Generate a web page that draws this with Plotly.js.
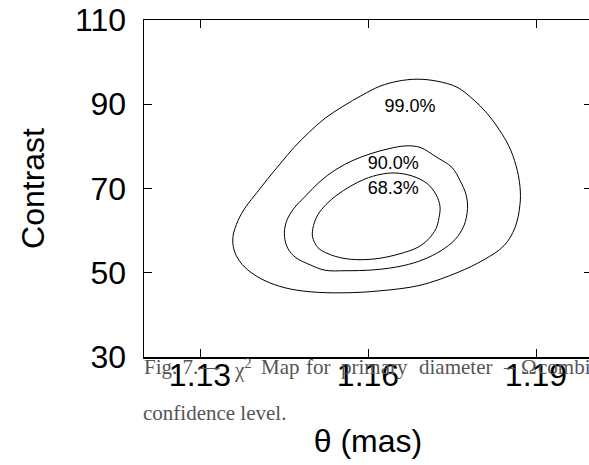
<!DOCTYPE html>
<html>
<head>
<meta charset="utf-8">
<script src="https://cdn.plot.ly/plotly-3.0.1.min.js"></script>
<style>
html,body{margin:0;padding:0;overflow:hidden;background:#fff;}
#chart{width:600px;height:465px;}
</style>
</head>
<body>
<div id="chart"></div>
<script>
// 99.0% confidence contour (theta in mas, contrast)
const c99_x = [1.13821,1.14018,1.14214,1.14429,1.14679,1.14946,1.15232,1.15554,1.15893,1.16214,1.16536,1.16875,1.17232,1.17589,1.17875,1.18125,1.18339,1.18518,1.18643,1.18714,1.18714,1.18625,1.18429,1.18071,1.17589,1.16929,1.16214,1.15589,1.14964,1.14518,1.14161,1.13893,1.13714,1.13607,1.13589,1.13679,1.13821];
const c99_y = [65.71,69.05,72.38,75.83,79.76,83.33,86.67,89.52,92.14,94.29,95.48,95.95,95.48,94.05,91.19,87.86,84.05,80.00,75.48,70.48,66.19,60.71,56.43,53.10,50.00,47.02,45.71,45.24,45.48,46.43,48.10,50.24,52.62,55.48,58.57,62.38,65.71];
// 90.0% confidence contour
const c90_x = [1.16679,1.16929,1.17232,1.17500,1.17643,1.17750,1.17777,1.17714,1.17554,1.17304,1.16982,1.16625,1.16125,1.15589,1.15232,1.14964,1.14714,1.14571,1.14509,1.14536,1.14661,1.14893,1.15143,1.15429,1.15732,1.16036,1.16357,1.16679];
const c90_y = [80.12,79.76,77.38,75.00,71.90,68.57,65.24,61.19,57.86,55.24,53.10,51.67,50.71,50.48,50.60,51.90,53.57,55.71,58.57,61.90,65.00,68.33,71.67,74.52,76.67,78.21,79.40,80.12];
// 68.3% confidence contour
const c68_x = [1.16482,1.16786,1.17054,1.17214,1.17286,1.17268,1.17214,1.17071,1.16875,1.16571,1.16214,1.15857,1.15554,1.15286,1.15107,1.15009,1.15027,1.15107,1.15250,1.15446,1.15679,1.15946,1.16214,1.16482];
const c68_y = [73.69,72.98,71.19,68.57,65.71,63.10,60.48,57.86,55.95,54.52,53.45,53.10,53.45,54.52,55.95,58.57,61.19,63.81,66.19,68.45,70.48,72.26,73.33,73.69];
// contour labels
const label_x = [1.1675,1.1645,1.1645];
const label_y = [89.3,75.7,69.8];
const label_text = ["99.0%","90.0%","68.3%"];
// axis ticks
const xticks = [1.13,1.16,1.19];
const xticklabels = ["1.13","1.16","1.19"];
const yticks = [30,50,70,90,110];
const yticklabels = ["30","50","70","90","110"];
// caption words (figure caption overlapping the chart), with their left pixel positions
const caption1_words = ["Fig. 7.—","χ<sup>2</sup>","Map","for","primary","diameter","–","Ω","combined"];
const caption1_px = [143,233,260,305,340,418,502,520,537];
const caption2_text = "confidence level.";

const lineStyle = {color:'#000', width:1, shape:'spline', smoothing:1.0};
const traces = [
  {x:c99_x, y:c99_y, type:'scatter', mode:'lines', line:lineStyle, hoverinfo:'skip'},
  {x:c90_x, y:c90_y, type:'scatter', mode:'lines', line:lineStyle, hoverinfo:'skip'},
  {x:c68_x, y:c68_y, type:'scatter', mode:'lines', line:lineStyle, hoverinfo:'skip'},
  {x:label_x, y:label_y, text:label_text, type:'scatter', mode:'text',
   textfont:{family:'Liberation Sans, Arial, sans-serif', size:18, color:'#000'}, hoverinfo:'skip'}
];

const L = 144, R = 8, W = 600, plotW = W - L - R;
const capFont = {family:'Liberation Serif, DejaVu Serif, serif', size:21, color:'#555'};
const annotations = caption1_words.map((w, i) => ({
  xref:'paper', yref:'paper', x:(caption1_px[i] - L) / plotW, y:0.008,
  xanchor:'left', yanchor:'top', showarrow:false, text:w, font:capFont, borderpad:0
}));
annotations.push({xref:'paper', yref:'paper', x:(142 - L) / plotW, y:-0.128,
  xanchor:'left', yanchor:'top', showarrow:false, text:caption2_text, font:capFont, borderpad:0});

const axFont = {family:'Liberation Sans, Arial, sans-serif', size:32, color:'#000'};
const layout = {
  width:W, height:465,
  margin:{l:L, r:R, t:20, b:108},
  paper_bgcolor:'#fff', plot_bgcolor:'#fff',
  showlegend:false,
  font:axFont,
  xaxis:{
    range:[1.12,1.2], tickvals:xticks, ticktext:xticklabels,
    ticks:'inside', ticklen:8, tickwidth:1, tickcolor:'#000',
    showline:true, linecolor:'#000', linewidth:1.5, mirror:'ticks',
    showgrid:false, zeroline:false, tickfont:axFont,
    ticklabelstandoff:-11,
    title:{text:'θ (mas)', font:axFont, standoff:37}
  },
  yaxis:{
    range:[30,110], tickvals:yticks, ticktext:yticklabels,
    ticks:'inside', ticklen:8, tickwidth:1, tickcolor:'#000',
    showline:true, linecolor:'#000', linewidth:1.5, mirror:'ticks',
    showgrid:false, zeroline:false, tickfont:axFont,
    ticklabelstandoff:10,
    title:{text:'Contrast', font:axFont, standoff:21}
  },
  annotations:annotations
};
Plotly.newPlot('chart', traces, layout, {staticPlot:true, displayModeBar:false});
</script>
</body>
</html>
